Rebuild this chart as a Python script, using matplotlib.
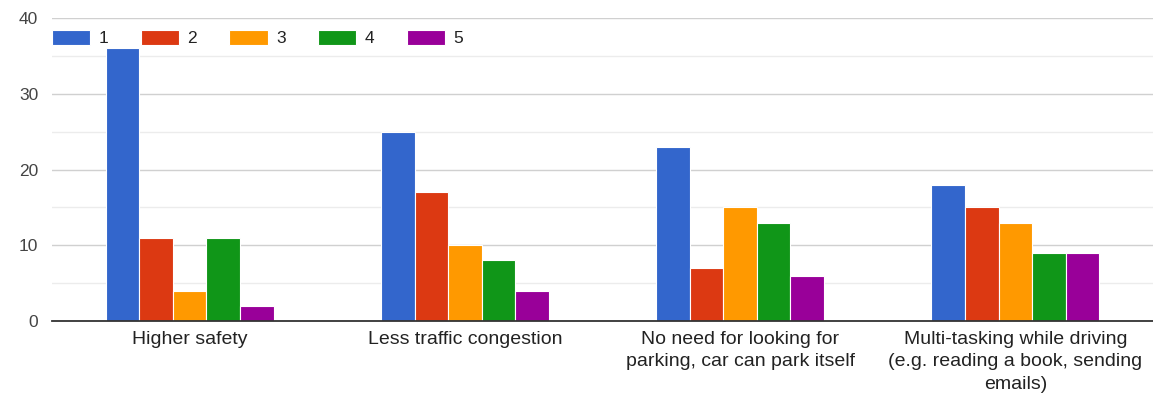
import matplotlib
matplotlib.use("Agg")
import matplotlib.pyplot as plt
import numpy as np

categories = ["Higher safety", "Less traffic congestion",
              "No need for looking for\nparking, car can park itself",
              "Multi-tasking while driving\n(e.g. reading a book, sending\nemails)"]
series_names = ["1", "2", "3", "4", "5"]
s1 = [36, 25, 23, 18]
s2 = [11, 17, 7, 15]
s3 = [4, 10, 15, 13]
s4 = [11, 8, 13, 9]
s5 = [2, 4, 6, 9]
series = [s1, s2, s3, s4, s5]
colors = ["#3366cc", "#dc3912", "#ff9900", "#109618", "#990099"]
yticks = [0, 10, 20, 30, 40]

plt.rcParams['font.family'] = ['Liberation Sans', 'DejaVu Sans']

fig = plt.figure(figsize=(11.53, 3.97), dpi=100)
ax = fig.add_axes([52/1153, 1-321/397, 1-52/1153, (321-18)/397])

x = np.arange(len(categories))
n = len(series)
bw = 0.122
for i, (vals, c, name) in enumerate(zip(series, colors, series_names)):
    ax.bar(x + (i - (n-1)/2) * bw, vals, width=bw, color=c, label=name,
           edgecolor="white", linewidth=0.8, zorder=3)

ax.set_xlim(-0.5, len(categories) - 0.5)
ax.set_ylim(0, 40)
ax.set_yticks(yticks)
ax.set_yticks([5, 15, 25, 35], minor=True)
ax.grid(axis='y', which='major', color='#d0d0d0', linewidth=1, zorder=0)
ax.grid(axis='y', which='minor', color='#ececec', linewidth=1, zorder=0)
ax.set_xticks(x)
ax.set_xticklabels(categories, fontsize=14, color='#222222', linespacing=1.42)
ax.tick_params(axis='x', length=0, pad=7)
ax.tick_params(axis='y', which='both', length=0, pad=10, labelsize=12.5, labelcolor='#444444')
for sp in ['top', 'right', 'left']:
    ax.spines[sp].set_visible(False)
ax.spines['bottom'].set_color('#333333')
ax.spines['bottom'].set_linewidth(1.3)
ax.spines['bottom'].set_zorder(4)

leg = ax.legend(loc='center left', bbox_to_anchor=(0.0, 0.934), ncol=5, frameon=False,
                handlelength=2.2, handleheight=0.95, handletextpad=0.5,
                columnspacing=1.85, fontsize=12.5, borderaxespad=0, borderpad=0)
for t in leg.get_texts():
    t.set_color('#222222')

fig.savefig("out.png", dpi=100, facecolor="white")
